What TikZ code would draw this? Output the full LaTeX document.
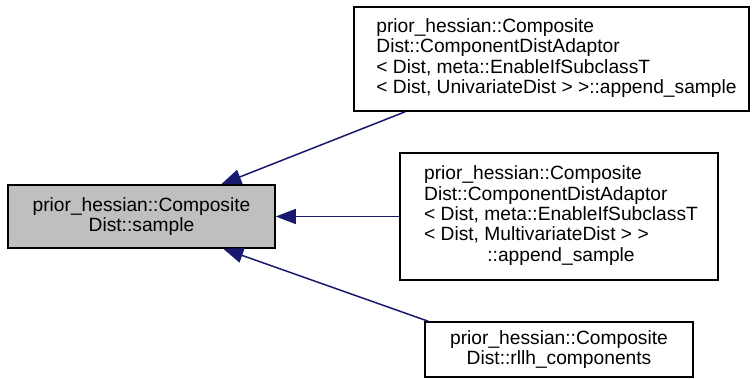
\documentclass[tikz,border=0pt]{standalone}
\usepackage{fontspec}
\setmainfont{Liberation Sans}
\usetikzlibrary{arrows.meta,calc}
\begin{document}
\begin{tikzpicture}[x=1pt,y=-1pt,
  box/.style={draw=black,line width=1.5pt,inner sep=0pt,font=\fontsize{19.2}{20.3}\selectfont,align=center},
  edge/.style={draw={rgb,255:red,25;green,25;blue,112},line width=1.5pt,-{Triangle[length=20pt,width=15pt]}}]
\useasboundingbox (0,0) rectangle (754,379);
\node[box,fill={rgb,255:red,191;green,191;blue,191},minimum width=267pt,minimum height=63pt] (a) at (141.5,216.5) {prior\_hessian::Composite\\Dist::sample};
\node[box,fill=white,minimum width=395pt,minimum height=104pt] (b) at (551.5,59) {\hspace*{10pt}\begin{tabular}{@{}l@{}}prior\_hessian::Composite\\Dist::ComponentDistAdaptor\\{<} Dist, meta::EnableIfSubclassT\\{<} Dist, UnivariateDist {>} {>}::append\_sample\end{tabular}};
\node[box,fill=white,minimum width=318pt,minimum height=127pt] (c) at (559,216.5) {\hspace*{4pt}\begin{tabular}{@{}l@{}}prior\_hessian::Composite\\Dist::ComponentDistAdaptor\\{<} Dist, meta::EnableIfSubclassT\\{<} Dist, MultivariateDist {>} {>}\\\multicolumn{1}{@{}c@{}}{::append\_sample}\end{tabular}};
\node[box,fill=white,minimum width=268pt,minimum height=55pt] (d) at (559,349.5) {prior\_hessian::Composite\\Dist::rllh\_components};
\draw[edge] ($(b.south west)+(52,0)$) -- ($(a.north west)+(214,0)$);
\draw[edge] (c.west) -- (a.east);
\draw[edge] ($(d.north west)+(4,0)$) -- ($(a.south west)+(216,0)$);
\end{tikzpicture}
\end{document}
